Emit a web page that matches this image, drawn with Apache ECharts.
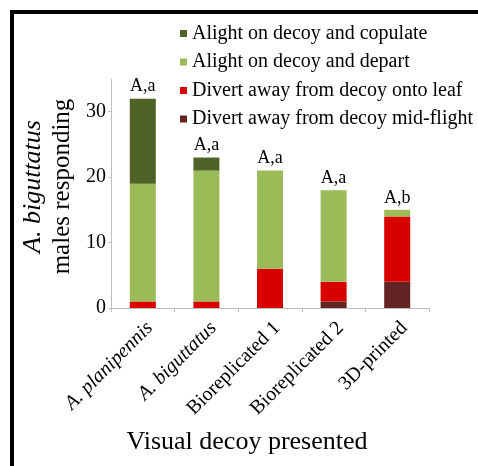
<!DOCTYPE html>
<html><head><meta charset="utf-8">
<script src="https://cdn.jsdelivr.net/npm/echarts@6/dist/echarts.min.js"></script>
<style>html,body{margin:0;padding:0;background:#fff}#c{width:478px;height:466px}</style>
</head><body><div id="c"></div>
<script>
var categories = ['A. planipennis', 'A. biguttatus', 'Bioreplicated 1', 'Bioreplicated 2', '3D-printed'];
var midFlight = [0, 0, 0, 1, 4];
var ontoLeaf = [1, 1, 6, 3, 10];
var depart = [18, 20, 15, 14, 1];
var copulate = [13, 2, 0, 0, 0];
var sigLabels = ['A,a', 'A,a', 'A,a', 'A,a', 'A,b'];
var yTicks = [0, 10, 20, 30];

var serif = 'Liberation Serif';
var chart = echarts.init(document.getElementById('c'));
chart.setOption({
  animation: false,
  backgroundColor: '#fff',
  grid: { left: 111, right: 49, top: 79, bottom: 158 },
  legend: {
    orient: 'vertical', left: 175, top: 18.5,
    itemWidth: 7, itemHeight: 7, itemGap: 8.5, icon: 'rect',
    textStyle: { fontFamily: serif, fontSize: 20, color: '#000', lineHeight: 20 },
    data: ['Alight on decoy and copulate', 'Alight on decoy and depart', 'Divert away from decoy onto leaf', 'Divert away from decoy mid-flight']
  },
  xAxis: {
    type: 'category', data: categories,
    axisLine: { lineStyle: { color: '#bfbfbf' } },
    axisTick: { show: true, length: 4, lineStyle: { color: '#bfbfbf' } },
    axisLabel: {
      rotate: 45, margin: 10, verticalAlign: 'top', fontFamily: serif, fontSize: 20, color: '#000',
      formatter: function (v, i) { return i < 2 ? '{it|' + v + '}' : v; },
      rich: { it: { fontFamily: serif, fontSize: 20, fontStyle: 'italic', color: '#000' } }
    },
    name: 'Visual decoy presented', nameLocation: 'middle', nameGap: 121,
    nameTextStyle: { fontFamily: serif, fontSize: 26, color: '#000', padding: [0, 46, 0, 0] }
  },
  yAxis: {
    type: 'value', min: 0, max: 35, interval: 10,
    splitLine: { show: false },
    axisLine: { show: true, lineStyle: { color: '#bfbfbf' } },
    axisTick: { show: true, length: 3, lineStyle: { color: '#bfbfbf' } },
    axisLabel: {
      margin: 5, fontFamily: serif, fontSize: 20, color: '#000', showMaxLabel: false,
      formatter: function (v) { return yTicks.indexOf(v) >= 0 ? String(v) : ''; }
    },
    name: '{it|A. biguttatus}\n{n|males responding}',
    nameLocation: 'middle', nameRotate: 90, nameGap: 28,
    nameTextStyle: {
      padding: [0, 0, 0, 14],
      rich: {
        it: { fontFamily: serif, fontSize: 26, fontStyle: 'italic', color: '#000', lineHeight: 30 },
        n: { fontFamily: serif, fontSize: 25, color: '#000', lineHeight: 29 }
      }
    }
  },
  series: [
    { name: 'Divert away from decoy mid-flight', type: 'bar', stack: 's', barWidth: 26, data: midFlight, itemStyle: { color: '#632523' } },
    { name: 'Divert away from decoy onto leaf', type: 'bar', stack: 's', barWidth: 26, data: ontoLeaf, itemStyle: { color: '#d90000' } },
    { name: 'Alight on decoy and depart', type: 'bar', stack: 's', barWidth: 26, data: depart, itemStyle: { color: '#9bbb59' } },
    { name: 'Alight on decoy and copulate', type: 'bar', stack: 's', barWidth: 26, data: copulate, itemStyle: { color: '#4f6228' },
      label: { show: true, position: 'top', distance: 3, fontFamily: serif, fontSize: 18, color: '#000',
        formatter: function (p) { return sigLabels[p.dataIndex]; } } }
  ],
  graphic: [
    { type: 'rect', shape: { x: 10, y: 10, width: 4, height: 456 }, style: { fill: '#000' } },
    { type: 'rect', shape: { x: 10, y: 10, width: 468, height: 4 }, style: { fill: '#000' } }
  ]
});
</script></body></html>
